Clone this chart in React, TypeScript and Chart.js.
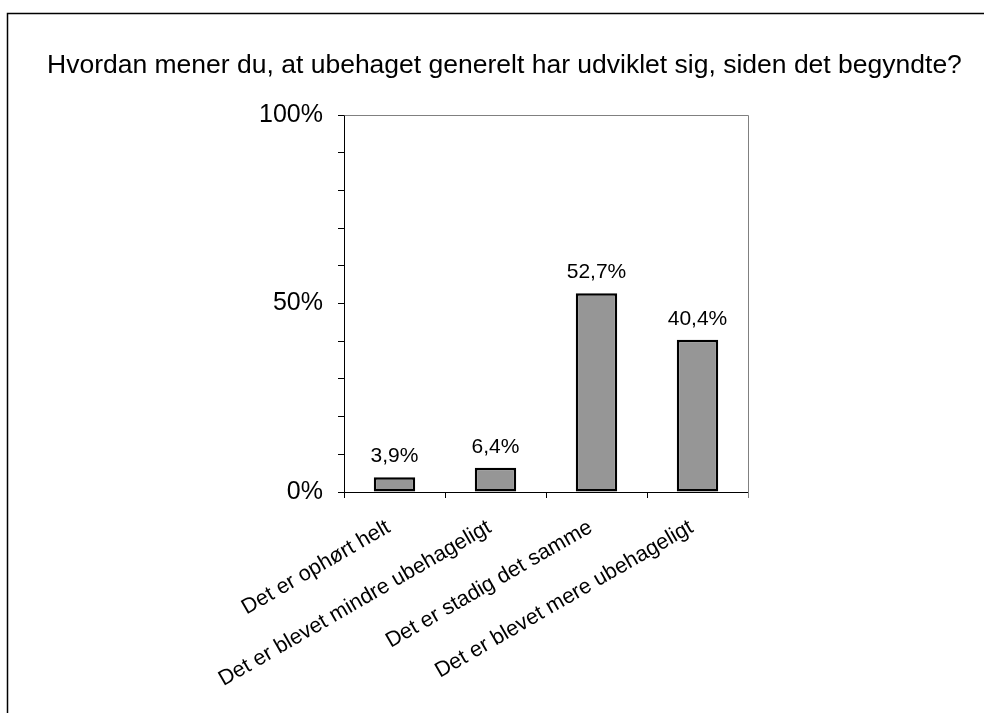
import React, { useEffect, useRef } from "react";
import { Chart, registerables } from "chart.js";

Chart.register(...registerables);

const TITLE = "Hvordan mener du, at ubehaget generelt har udviklet sig, siden det begyndte?";
const categories = [
  "Det er ophørt helt",
  "Det er blevet mindre ubehageligt",
  "Det er stadig det samme",
  "Det er blevet mere ubehageligt",
];
const values = [3.9, 6.4, 52.7, 40.4];
const yMin = 0;
const yMax = 100;
const yStep = 10;
const yLabelEvery = 50;

const FONT = "'Liberation Sans', Arial, sans-serif";

const fmt = (v: number) => v.toFixed(1).replace(".", ",") + "%";

const decorPlugin = {
  id: "decor",
  beforeDraw(chart: any) {
    const ctx = chart.ctx;
    ctx.save();
    // outer frame
    ctx.strokeStyle = "#000";
    ctx.lineWidth = 1.5;
    ctx.beginPath();
    ctx.moveTo(7.5, 2000);
    ctx.lineTo(7.5, 13.5);
    ctx.lineTo(2000, 13.5);
    ctx.stroke();
    // title
    ctx.fillStyle = "#000";
    ctx.font = `26.5px ${FONT}`;
    ctx.textAlign = "left";
    ctx.textBaseline = "alphabetic";
    ctx.fillText(TITLE, 47, 73);
    ctx.restore();
  },
  afterDraw(chart: any) {
    const ctx = chart.ctx;
    const a = chart.chartArea;
    ctx.save();
    ctx.strokeStyle = "#808080";
    ctx.lineWidth = 1;
    ctx.beginPath();
    ctx.moveTo(Math.round(a.left) + 0.5, Math.round(a.top) + 0.5);
    ctx.lineTo(Math.round(a.right) + 0.5, Math.round(a.top) + 0.5);
    ctx.lineTo(Math.round(a.right) + 0.5, Math.round(a.bottom) + 6);
    ctx.stroke();
    // rotated category labels
    const xs = chart.scales.x;
    ctx.fillStyle = "#000";
    ctx.font = `21.5px ${FONT}`;
    ctx.textAlign = "right";
    ctx.textBaseline = "alphabetic";
    categories.forEach((c, i) => {
      const px = xs.getPixelForValue(i);
      ctx.save();
      ctx.translate(px - 3, a.bottom + 39);
      ctx.rotate((-30 * Math.PI) / 180);
      ctx.fillText(c, 0, 0);
      ctx.restore();
    });
    ctx.restore();
  },
  afterDatasetsDraw(chart: any) {
    const ctx = chart.ctx;
    const meta = chart.getDatasetMeta(0);
    ctx.save();
    ctx.fillStyle = "#000";
    ctx.font = `21px ${FONT}`;
    ctx.textAlign = "center";
    ctx.textBaseline = "alphabetic";
    meta.data.forEach((bar: any, i: number) => {
      ctx.fillText(fmt(values[i]), bar.x, bar.y - 15);
    });
    ctx.restore();
  },
};

export default function App() {
  const ref = useRef<HTMLCanvasElement | null>(null);
  useEffect(() => {
    if (!ref.current) return;
    const chart = new Chart(ref.current, {
      type: "bar",
      data: {
        labels: categories,
        datasets: [
          {
            data: values,
            backgroundColor: "#969696",
            borderColor: "#000",
            borderWidth: 2.5,
            borderSkipped: false,
            barPercentage: 0.41,
            categoryPercentage: 1,
          },
        ],
      },
      options: {
        animation: false,
        responsive: false,
        devicePixelRatio: 1,
        layout: { padding: { top: 115, right: 236, left: 0, bottom: 0 } },
        plugins: {
          legend: { display: false },
          title: { display: false },
          tooltip: { enabled: false },
        },
        scales: {
          x: {
            grid: {
              display: true,
              drawOnChartArea: false,
              drawTicks: true,
              tickLength: 6,
              color: "#000",
              offset: true,
            },
            border: { display: true, color: "#000", width: 1 },
            ticks: { display: false },
            afterFit: (s: any) => {
              s.height = 221;
            },
          },
          y: {
            min: yMin,
            max: yMax,
            grid: {
              display: true,
              drawOnChartArea: false,
              drawTicks: true,
              tickLength: 6,
              color: "#000",
            },
            border: { display: true, color: "#000", width: 1 },
            ticks: {
              stepSize: yStep,
              color: "#000",
              padding: 15,
              font: { family: FONT, size: 25 },
              callback: (v: any) => (Number(v) % yLabelEvery === 0 ? `${v}%` : ""),
            },
            afterFit: (s: any) => {
              s.width = 344;
            },
          },
        },
      },
      plugins: [decorPlugin],
    });
    return () => chart.destroy();
  }, []);
  return (
    <div style={{ position: "fixed", left: 0, top: 0, width: 984, height: 713, background: "#fff" }}>
      <canvas ref={ref} width={984} height={713} style={{ display: "block" }} />
    </div>
  );
}
